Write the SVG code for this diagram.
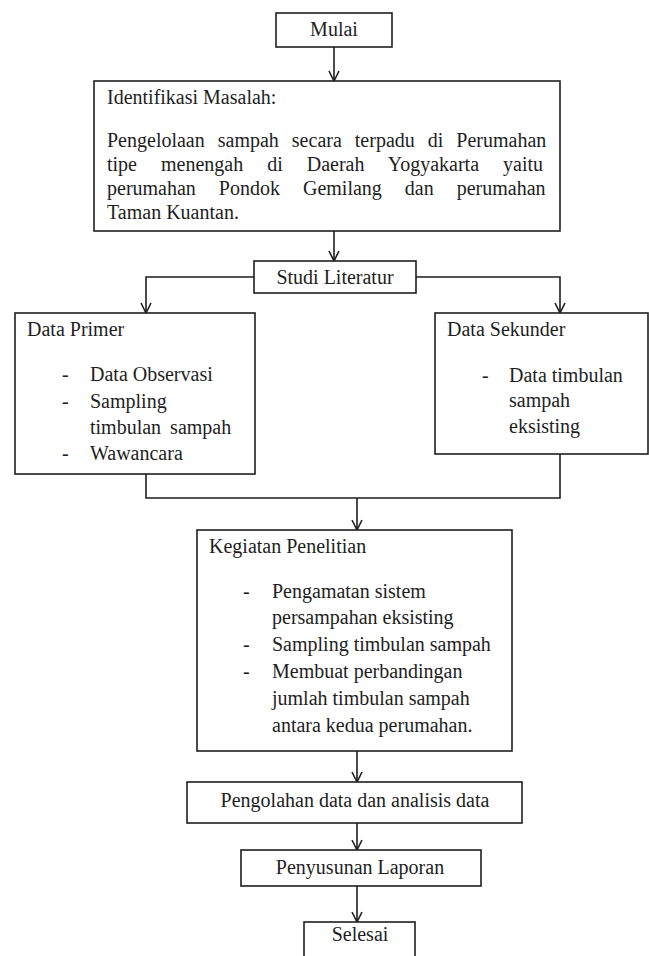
<svg xmlns="http://www.w3.org/2000/svg" width="649" height="956" viewBox="0 0 649 956">
<defs>
<style>
.box{fill:#fff;stroke:#1e1e1e;stroke-width:1.6}
.ln{fill:none;stroke:#1e1e1e;stroke-width:1.6}
.t{font-family:"Liberation Serif","Times New Roman","DejaVu Serif",serif;font-size:20px;fill:#1e1e1e}
.c{text-anchor:middle}
</style>
<marker id="arr" viewBox="-12 -7 14 14" markerWidth="14" markerHeight="14" refX="0" refY="0" orient="auto" markerUnits="userSpaceOnUse">
<path d="M-10,-5 L0,0 L-10,5" fill="none" stroke="#1e1e1e" stroke-width="1.6"/>
</marker>
</defs>
<rect width="649" height="956" fill="#fff"/>
<g id="connectors">
<line class="ln" x1="334" y1="47" x2="334" y2="81" marker-end="url(#arr)"/>
<line class="ln" x1="334" y1="231" x2="334" y2="261" marker-end="url(#arr)"/>
<polyline class="ln" points="254,277 146,277 146,313" marker-end="url(#arr)"/>
<polyline class="ln" points="416,277 560,277 560,313" marker-end="url(#arr)"/>
<polyline class="ln" points="146,474 146,498 560,498 560,454"/>
<line class="ln" x1="357" y1="498" x2="357" y2="530" marker-end="url(#arr)"/>
<line class="ln" x1="357" y1="751" x2="357" y2="782" marker-end="url(#arr)"/>
<line class="ln" x1="357" y1="823" x2="357" y2="850" marker-end="url(#arr)"/>
<line class="ln" x1="357" y1="886" x2="357" y2="922" marker-end="url(#arr)"/>
</g>
<g class="t" font-family="Liberation Serif, Times New Roman, DejaVu Serif, serif" font-size="20">
<g id="mulai">
<rect class="box" x="276" y="13" width="116" height="34"/>
<text class="c" x="334" y="36">Mulai</text>
</g>
<g id="identifikasi">
<rect class="box" x="94" y="81" width="466" height="150"/>
<text x="107" y="104">Identifikasi Masalah:</text>
<text x="107" y="147" word-spacing="8">Pengelolaan sampah secara terpadu di Perumahan</text>
<text x="107" y="171" word-spacing="19">tipe menengah di Daerah Yogyakarta yaitu</text>
<text x="107" y="195" word-spacing="18">perumahan Pondok Gemilang dan perumahan</text>
<text x="107" y="219">Taman Kuantan.</text>
</g>
<g id="studi">
<rect class="box" x="254" y="261" width="162" height="32"/>
<text class="c" x="335" y="284">Studi Literatur</text>
</g>
<g id="primer">
<rect class="box" x="15" y="313" width="240" height="161"/>
<text x="27" y="336">Data Primer</text>
<text x="62" y="381">-</text><text x="90" y="381">Data Observasi</text>
<text x="62" y="408">-</text><text x="90" y="408">Sampling</text>
<text x="90" y="434" word-spacing="4">timbulan sampah</text>
<text x="62" y="460">-</text><text x="90" y="460">Wawancara</text>
</g>
<g id="sekunder">
<rect class="box" x="435" y="313" width="213" height="141"/>
<text x="447" y="336">Data Sekunder</text>
<text x="482" y="382">-</text><text x="509" y="382">Data timbulan</text>
<text x="509" y="407">sampah</text>
<text x="509" y="433">eksisting</text>
</g>
<g id="kegiatan">
<rect class="box" x="197" y="530" width="315" height="221"/>
<text x="209" y="553">Kegiatan Penelitian</text>
<text x="243" y="598">-</text><text x="272" y="598">Pengamatan sistem</text>
<text x="272" y="624">persampahan eksisting</text>
<text x="243" y="651">-</text><text x="272" y="651">Sampling timbulan sampah</text>
<text x="243" y="678">-</text><text x="272" y="678">Membuat perbandingan</text>
<text x="272" y="705">jumlah timbulan sampah</text>
<text x="272" y="732">antara kedua perumahan.</text>
</g>
<g id="pengolahan">
<rect class="box" x="187" y="782" width="335" height="41"/>
<text class="c" x="355" y="807">Pengolahan data dan analisis data</text>
</g>
<g id="penyusunan">
<rect class="box" x="241" y="850" width="240" height="36"/>
<text class="c" x="360" y="874">Penyusunan Laporan</text>
</g>
<g id="selesai">
<rect class="box" x="304" y="922" width="111" height="40"/>
<text class="c" x="360" y="941">Selesai</text>
</g>
</g>
</svg>
